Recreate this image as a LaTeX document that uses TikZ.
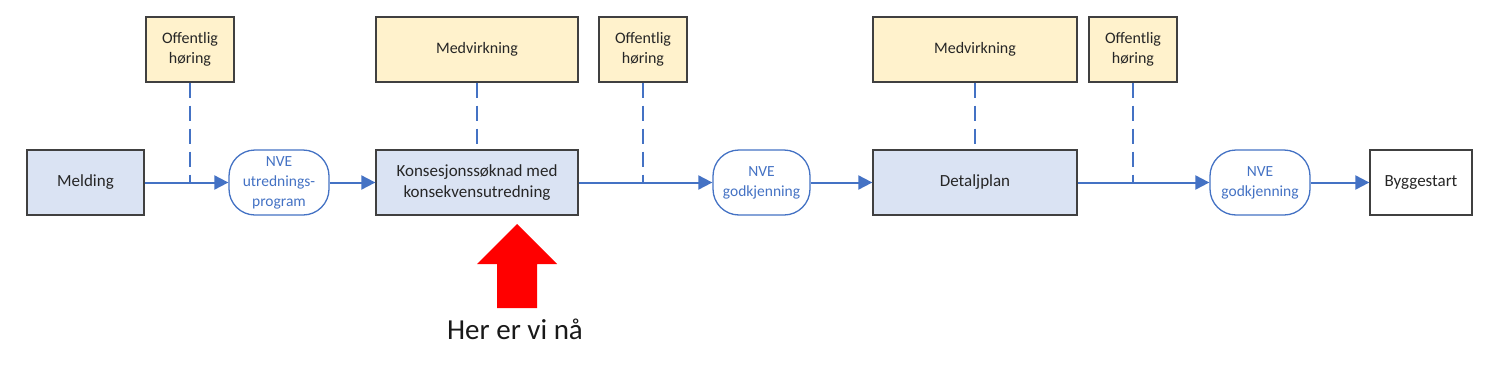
\documentclass[tikz,border=0pt]{standalone}
\usepackage{fontspec}
\setmainfont{Carlito}
\usetikzlibrary{arrows.meta}
\definecolor{lblue}{HTML}{DAE3F3}
\definecolor{lyel}{HTML}{FFF2CC}
\definecolor{ablue}{HTML}{4472C4}
\definecolor{bord}{HTML}{404040}
\begin{document}
\begin{tikzpicture}[x=1pt,y=-1pt,
 box/.style={draw=bord, line width=1.3pt, minimum height=65pt, inner sep=2pt, align=center, font=\fontsize{17}{21}\selectfont, text=black!85},
 proc/.style={box, fill=lblue},
 note/.style={box, fill=lyel, font=\fontsize{16}{20}\selectfont},
 endbox/.style={box, fill=white},
 nve/.style={draw=ablue, line width=1.3pt, rounded corners=26pt, fill=white, minimum height=65pt, inner sep=2pt, align=center, text=ablue, font=\fontsize{15.5}{20}\selectfont},
 flow/.style={draw=ablue, line width=2pt, -{Triangle[length=14pt,width=14pt]}},
 dashline/.style={draw=ablue, line width=2pt, dash pattern=on 15pt off 8pt}
]
\useasboundingbox (0,0) rectangle (1485,370);

\node[proc, minimum width=117pt] (mel) at (85.5,182.5) {Melding};
\node[note, minimum width=88pt] (off1) at (190,49.5) {Offentlig\\høring};
\node[nve, minimum width=100pt] (nve1) at (279,182.5) {NVE\\utrednings-\\program};
\node[proc, minimum width=202pt] (kons) at (477,182.5) {Konsesjonssøknad med\\konsekvensutredning};
\node[note, minimum width=202pt] (med1) at (477,49.5) {Medvirkning};
\node[note, minimum width=88pt] (off2) at (643,49.5) {Offentlig\\høring};
\node[nve, minimum width=97pt] (nve2) at (761.5,182.5) {NVE\\godkjenning};
\node[proc, minimum width=204pt] (det) at (975,182.5) {Detaljplan};
\node[note, minimum width=204pt] (med2) at (975,49.5) {Medvirkning};
\node[note, minimum width=88pt] (off3) at (1133,49.5) {Offentlig\\høring};
\node[nve, minimum width=100pt] (nve3) at (1260,182.5) {NVE\\godkjenning};
\node[endbox, minimum width=102pt] (bygg) at (1421,182.5) {Byggestart};

\draw[flow] (mel) -- (nve1);
\draw[flow] (nve1) -- (kons);
\draw[flow] (kons) -- (nve2);
\draw[flow] (nve2) -- (det);
\draw[flow] (det) -- (nve3);
\draw[flow] (nve3) -- (bygg);

\draw[dashline] (off1.south) -- (off1.south |- mel.east);
\draw[dashline] (med1) -- (kons);
\draw[dashline] (off2.south) -- (off2.south |- kons.east);
\draw[dashline] (med2) -- (det);
\draw[dashline] (off3.south) -- (off3.south |- det.east);

\fill[red] (517,224) -- (557,264) -- (537,264) -- (537,308) -- (497,308) -- (497,264) -- (477,264) -- cycle;
\node[font=\fontsize{29}{32}\selectfont, text=black!90] (here) at (515,329) {Her er vi nå};
\end{tikzpicture}
\end{document}
